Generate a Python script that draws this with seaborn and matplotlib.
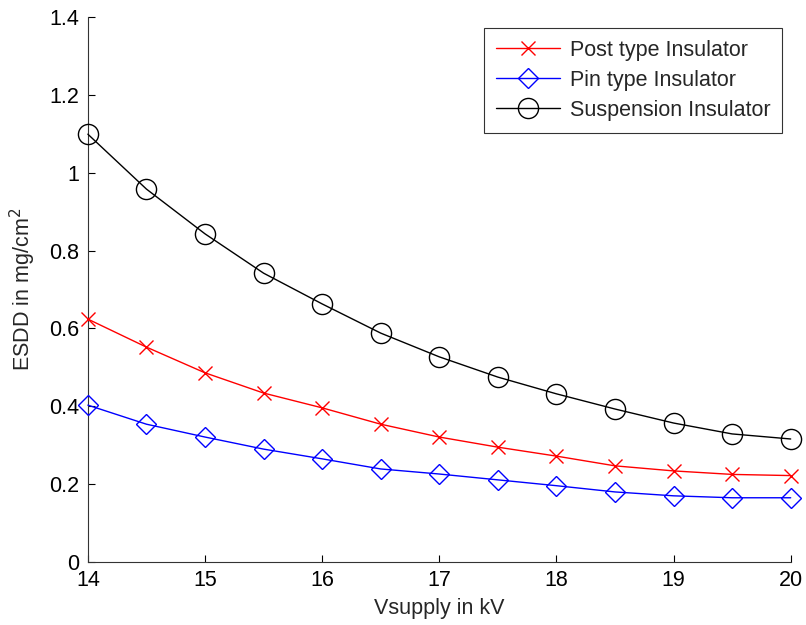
import matplotlib
matplotlib.use("Agg")
import matplotlib.pyplot as plt
import seaborn as sns
import pandas as pd

vsupply = [14, 14.5, 15, 15.5, 16, 16.5, 17, 17.5, 18, 18.5, 19, 19.5, 20]
post = [0.624, 0.552, 0.486, 0.434, 0.396, 0.354, 0.321, 0.295, 0.272, 0.247, 0.234, 0.225, 0.222]
pin = [0.403, 0.354, 0.321, 0.290, 0.265, 0.239, 0.226, 0.211, 0.196, 0.180, 0.170, 0.165, 0.165]
suspension = [1.099, 0.958, 0.843, 0.742, 0.663, 0.588, 0.527, 0.475, 0.432, 0.393, 0.357, 0.329, 0.316]
series_names = ["Post type Insulator", "Pin type Insulator", "Suspension Insulator"]

df = pd.concat([
    pd.DataFrame({"V": vsupply, "ESDD": post, "type": series_names[0]}),
    pd.DataFrame({"V": vsupply, "ESDD": pin, "type": series_names[1]}),
    pd.DataFrame({"V": vsupply, "ESDD": suspension, "type": series_names[2]}),
])

sns.set_style("white")
plt.rcParams['font.family'] = ['Liberation Sans', 'DejaVu Sans']

fig = plt.figure(figsize=(8.06, 6.25), dpi=100)
ax = fig.add_axes([0.109, 0.1008, 0.872, 0.872])

styles = {
    series_names[0]: dict(color="#ff0000", marker="x", ms=10, mew=1.0),
    series_names[1]: dict(color="#0000ff", marker="D", ms=10.5, mew=1.0, mfc="none"),
    series_names[2]: dict(color="#000000", marker="o", ms=14.5, mew=1.0, mfc="none"),
}
for name in series_names:
    st = styles[name]
    sub = df[df["type"] == name]
    sns.lineplot(data=sub, x="V", y="ESDD", ax=ax, color=st["color"], lw=1.0,
                 marker=st["marker"], markersize=st["ms"], markeredgewidth=st["mew"],
                 markerfacecolor=st.get("mfc", st["color"]), markeredgecolor=st["color"],
                 label=name, clip_on=False, zorder=3)

ax.set_xlim(14, 20)
ax.set_ylim(0, 1.4)
ax.set_xticks([14, 15, 16, 17, 18, 19, 20])
ax.set_xticklabels(["14", "15", "16", "17", "18", "19", "20"])
ax.set_yticks([0, 0.2, 0.4, 0.6, 0.8, 1.0, 1.2, 1.4])
ax.set_yticklabels(["0", "0.2", "0.4", "0.6", "0.8", "1", "1.2", "1.4"])
ax.tick_params(direction="in", length=5, width=0.8, labelsize=15.5, colors="black",
               bottom=True, left=True)
ax.tick_params(axis="x", pad=6)
ax.tick_params(axis="y", pad=6)
for s in ["top", "right"]:
    ax.spines[s].set_visible(False)
for s in ["left", "bottom"]:
    ax.spines[s].set_color("#333333")
    ax.spines[s].set_linewidth(0.8)

ax.set_xlabel("Vsupply in kV", fontsize=15.5, labelpad=5)
ax.set_ylabel("ESDD in mg/cm$^2$", fontsize=15.5, labelpad=8)

leg = ax.legend(loc="upper right", bbox_to_anchor=(0.988, 0.98), fontsize=15.5,
                frameon=True, fancybox=False, edgecolor="black", handlelength=3.0,
                borderpad=0.55, labelspacing=0.42, handletextpad=0.45, borderaxespad=0)
leg.get_frame().set_linewidth(0.8)

fig.savefig("out.png", dpi=100, facecolor="white")
